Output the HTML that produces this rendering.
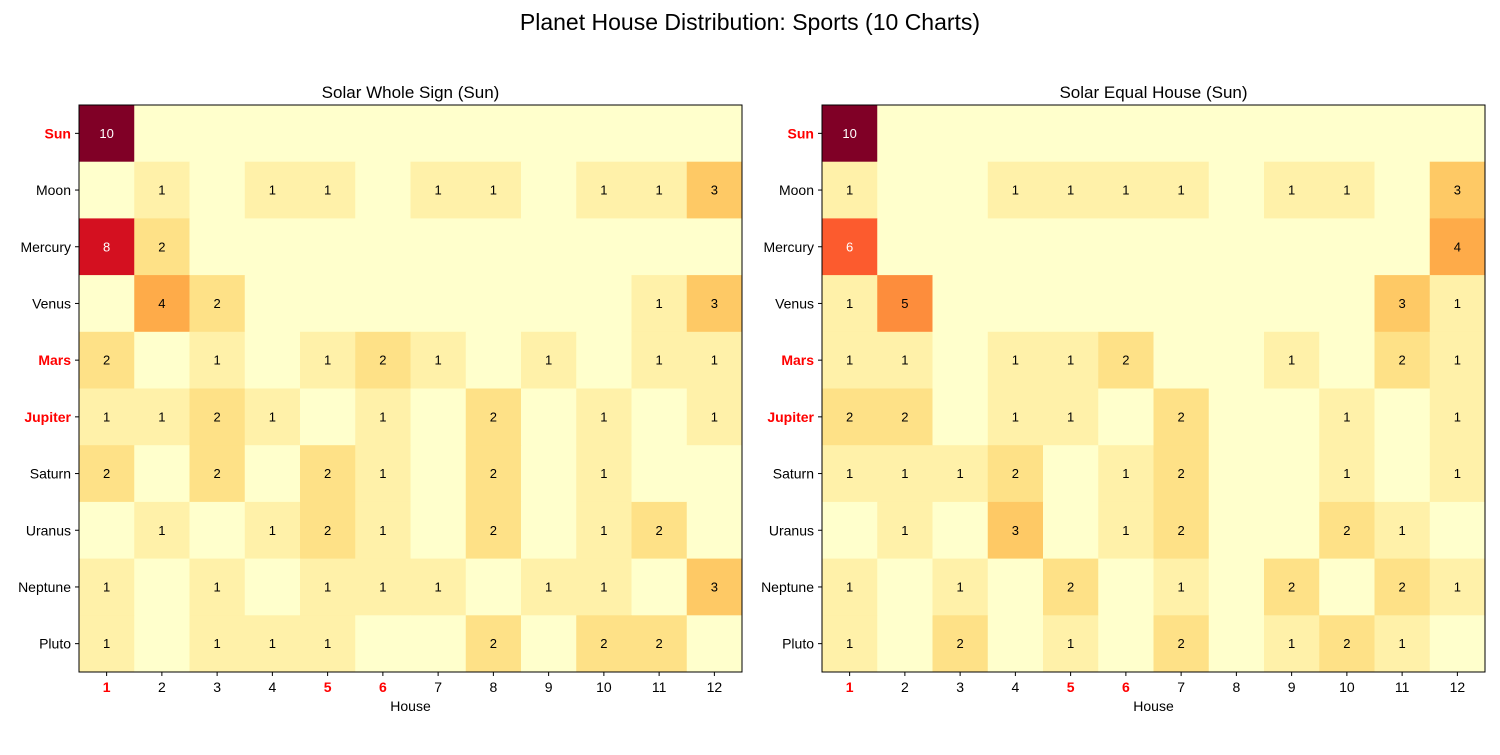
<!DOCTYPE html>
<html><head><meta charset="utf-8"><style>
body{margin:0;background:#fff;}
svg text{font-family:"Liberation Sans","DejaVu Sans",sans-serif;}
</style></head><body>
<svg id="chart" width="1500" height="750" xmlns="http://www.w3.org/2000/svg">
<text x="750" y="30" font-size="23" text-anchor="middle">Planet House Distribution: Sports (10 Charts)</text>
</svg>
<script>
const planets=["Sun","Moon","Mercury","Venus","Mars","Jupiter","Saturn","Uranus","Neptune","Pluto"];
const houses=["1","2","3","4","5","6","7","8","9","10","11","12"];
const redPlanets=["Sun","Mars","Jupiter"];
const redHouses=["1","5","6"];
const titles=["Solar Whole Sign (Sun)","Solar Equal House (Sun)"];
const wholeSign=[
[10,0,0,0,0,0,0,0,0,0,0,0],
[0,1,0,1,1,0,1,1,0,1,1,3],
[8,2,0,0,0,0,0,0,0,0,0,0],
[0,4,2,0,0,0,0,0,0,0,1,3],
[2,0,1,0,1,2,1,0,1,0,1,1],
[1,1,2,1,0,1,0,2,0,1,0,1],
[2,0,2,0,2,1,0,2,0,1,0,0],
[0,1,0,1,2,1,0,2,0,1,2,0],
[1,0,1,0,1,1,1,0,1,1,0,3],
[1,0,1,1,1,0,0,2,0,2,2,0]];
const equalHouse=[
[10,0,0,0,0,0,0,0,0,0,0,0],
[1,0,0,1,1,1,1,0,1,1,0,3],
[6,0,0,0,0,0,0,0,0,0,0,4],
[1,5,0,0,0,0,0,0,0,0,3,1],
[1,1,0,1,1,2,0,0,1,0,2,1],
[2,2,0,1,1,0,2,0,0,1,0,1],
[1,1,1,2,0,1,2,0,0,1,0,1],
[0,1,0,3,0,1,2,0,0,2,1,0],
[1,0,1,0,2,0,1,0,2,0,2,1],
[1,0,2,0,1,0,2,0,1,2,1,0]];
const vmax=10;
const stops=["#ffffcc","#ffeda0","#fed976","#feb24c","#fd8d3c","#fc4e2a","#e31a1c","#bd0026","#800026"];
function hex(c){return [1,3,5].map(i=>parseInt(c.substr(i,2),16));}
function cmap(v){let t=Math.max(0,Math.min(1,v/vmax))*(stops.length-1);let i=Math.min(Math.floor(t),stops.length-2);let f=t-i;let a=hex(stops[i]),b=hex(stops[i+1]);return "rgb("+a.map((x,k)=>Math.round(x+(b[k]-x)*f)).join(",")+")";}
const svg=document.getElementById('chart');
const NS="http://www.w3.org/2000/svg";
function mk(tag,attrs,parent){const e=document.createElementNS(NS,tag);for(const k in attrs)e.setAttribute(k,attrs[k]);(parent||svg).appendChild(e);return e;}
function panel(data,x0,title,idx){
  const w=663,h=567,y0=105;
  const cw=w/houses.length,ch=h/planets.length;
  const xs=j=>x0+j*cw, ys=i=>y0+i*ch;
  const g=mk('g',{});
  
  
  const t=mk('text',{x:x0+w/2,y:98,'font-size':17,'text-anchor':'middle'},g);t.textContent=title;
  
  
  data.forEach((row,i)=>row.forEach((v,j)=>{
    const r=mk('rect',{x:xs(j),y:ys(i),width:cw+0.5,height:ch+0.5,fill:cmap(v)},g);
    
    
    if(v>0){const tx=mk('text',{x:xs(j)+cw/2,y:ys(i)+ch/2+4.5,'font-size':13,'text-anchor':'middle',fill:v>=6?'#fff':'#000'},g);tx.textContent=v;
      
      }
  }));
  const b=mk('rect',{x:x0,y:y0,width:w,height:h,fill:'none',stroke:'#000','stroke-width':1},g);
  
  
  planets.forEach((p,i)=>{
    const red=redPlanets.includes(p);
    mk('line',{x1:x0-4,x2:x0,y1:ys(i)+ch/2,y2:ys(i)+ch/2,stroke:'#000'},g);
    const l=mk('text',{x:x0-8,y:ys(i)+ch/2+5,'font-size':14,'text-anchor':'end',fill:red?'#f00':'#000','font-weight':red?'bold':'normal'},g);l.textContent=p;
    
    
  });
  houses.forEach((hs,j)=>{
    const red=redHouses.includes(hs);
    mk('line',{x1:xs(j)+cw/2,x2:xs(j)+cw/2,y1:y0+h,y2:y0+h+4,stroke:'#000'},g);
    const l=mk('text',{x:xs(j)+cw/2,y:y0+h+20,'font-size':14,'text-anchor':'middle',fill:red?'#f00':'#000','font-weight':red?'bold':'normal'},g);l.textContent=hs;
    
    
  });
  const xl=mk('text',{x:x0+w/2,y:711,'font-size':14,'text-anchor':'middle'},g);xl.textContent='House';
  
  
}
panel(wholeSign,79,titles[0],0);
panel(equalHouse,822,titles[1],1);
</script>
</body></html>
